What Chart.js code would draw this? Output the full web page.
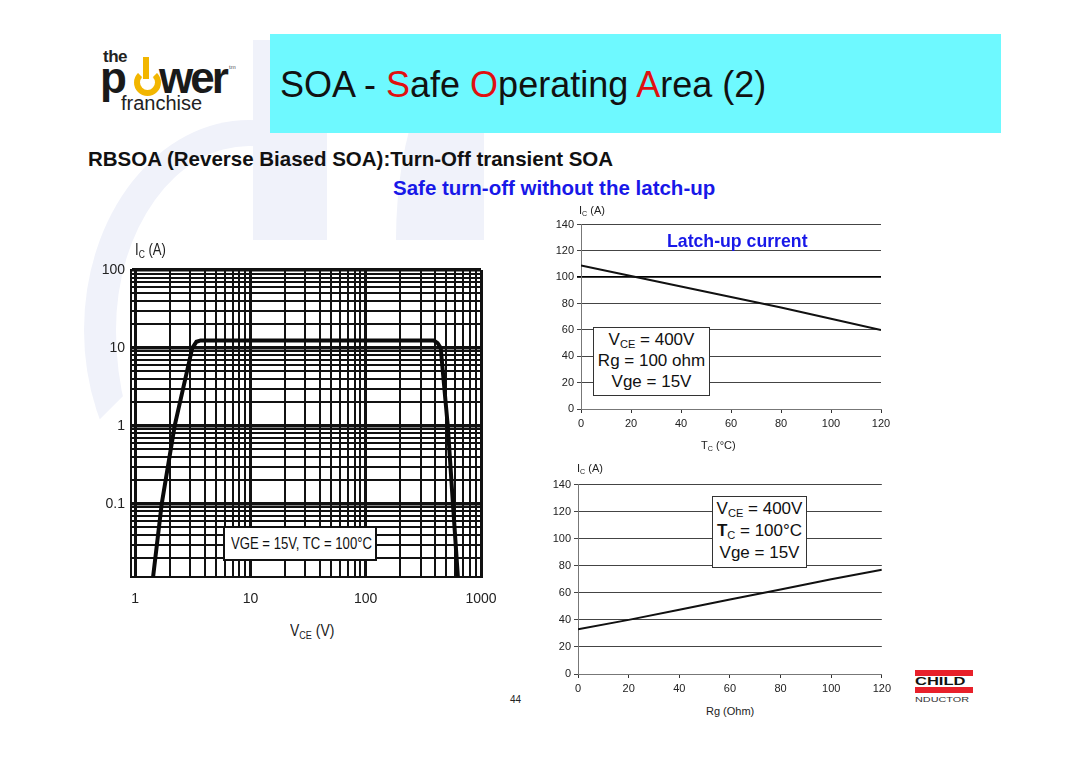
<!DOCTYPE html>
<html>
<head>
<meta charset="utf-8">
<script src="https://cdn.jsdelivr.net/npm/chart.js@4.4.1/dist/chart.umd.min.js"></script>
<style>
  body { margin: 0; background: #fff; }
  #slide { position: relative; width: 1080px; height: 763px; overflow: hidden; background: #fff; font-family: 'Liberation Sans', Arial, sans-serif; }
  .abs { position: absolute; white-space: nowrap; }
  .wm { position: absolute; background: #f0f2fa; }
  .narrow { display: inline-block; transform: scaleX(0.82); transform-origin: left center; }
  .box { position: absolute; background: #fff; text-align: center; color: #111; white-space: nowrap; }
  sub { font-size: 65%; vertical-align: -0.3em; line-height: 0; }
  canvas { position: absolute; }
</style>
</head>
<body>
<div id="slide">
  <!-- faint watermark shapes -->
  <div class="wm" style="left:84px;top:120px;width:330px;height:420px;border-radius:50%;background:transparent;border-left:32px solid #f0f2fa;border-top:26px solid #f0f2fa;box-sizing:border-box;clip-path:polygon(0 0,60% 0,60% 28%,0 75%);"></div>
  <div class="wm" style="left:253px;top:40px;width:74px;height:200px;"></div>
  <div class="wm" style="left:396px;top:40px;width:88px;height:200px;border-top-left-radius:80px 200px;"></div>

  <!-- logo -->
  <div class="abs" style="left:103px;top:48px;font-size:17px;line-height:17px;font-weight:bold;color:#222;letter-spacing:-0.5px;">the</div>
  <div class="abs" style="left:100px;top:56px;font-size:44px;line-height:44px;font-weight:bold;color:#1a1a1a;">p</div>
  <div class="abs" style="left:134px;top:69px;width:15px;height:15px;border:6px solid #f2b600;border-top-color:transparent;border-radius:50%;"></div>
  <div class="abs" style="left:143px;top:57px;width:6px;height:22px;background:#f2b600;"></div>
  <div class="abs" style="left:159px;top:56px;font-size:44px;line-height:44px;font-weight:bold;color:#1a1a1a;letter-spacing:-3px;">wer</div>
  <div class="abs" style="left:229px;top:64px;font-size:6px;color:#555;">tm</div>
  <div class="abs" style="left:121px;top:93px;font-size:20px;line-height:20px;color:#222;">franchise</div>

  <!-- title banner -->
  <div class="abs" style="left:270px;top:34px;width:731px;height:99px;background:#6ef9ff;"></div>
  <div class="abs" style="left:280px;top:64px;font-size:36px;color:#111;">SOA - <span style="color:#e01010">S</span>afe <span style="color:#e01010">O</span>perating <span style="color:#e01010">A</span>rea (2)</div>

  <div class="abs" style="left:88px;top:147px;font-size:20.5px;font-weight:bold;color:#111;">RBSOA (Reverse Biased SOA):Turn-Off transient SOA</div>
  <div class="abs" style="left:393px;top:176px;font-size:20.5px;font-weight:bold;color:#1818e8;">Safe turn-off without the latch-up</div>

  <canvas id="soa" width="420" height="360" style="left:80px;top:260px;"></canvas>
  <canvas id="latchT" width="350" height="225" style="left:545px;top:215px;"></canvas>
  <canvas id="latchR" width="350" height="230" style="left:545px;top:475px;"></canvas>

  <!-- axis titles -->
  <div class="abs" style="left:135px;top:241px;font-size:16px;color:#222;"><span class="narrow">I<sub>C</sub> (A)</span></div>
  <div class="abs" style="left:290px;top:621px;font-size:17px;color:#222;"><span class="narrow">V<sub>CE</sub> (V)</span></div>
  <div class="abs" style="left:579px;top:204px;font-size:11px;color:#222;">I<sub>C</sub> (A)</div>
  <div class="abs" style="left:701px;top:439px;font-size:11px;color:#222;">T<sub>C</sub> (°C)</div>
  <div class="abs" style="left:577px;top:462px;font-size:11px;color:#222;">I<sub>C</sub> (A)</div>
  <div class="abs" style="left:706px;top:705px;font-size:11px;color:#222;">Rg (Ohm)</div>

  <!-- annotations -->
  <div class="box" style="left:223px;top:526px;width:150px;height:31px;border:2px solid #111;font-size:16px;line-height:31px;text-align:left;"><span class="narrow" style="margin-left:6px;">VGE = 15V, TC = 100°C</span></div>
  <div class="abs" style="left:667px;top:231px;font-size:17.7px;font-weight:bold;color:#1818e8;">Latch-up current</div>
  <div class="box" style="left:593px;top:327px;width:115px;height:66px;border:1px solid #333;font-size:17px;line-height:21px;padding-top:1px;">V<sub>CE</sub> = 400V<br>Rg = 100 ohm<br>Vge = 15V</div>
  <div class="box" style="left:712px;top:496px;width:93px;height:69px;border:1px solid #333;font-size:17px;line-height:22px;padding-top:1px;">V<sub>CE</sub> = 400V<br><b>T</b><sub>C</sub> = 100°C<br>Vge = 15V</div>

  <div class="abs" style="left:510px;top:694px;font-size:10px;color:#222;">44</div>

  <!-- bottom-right logo -->
  <div class="abs" style="left:915px;top:670px;width:58px;height:6px;background:#e8202a;"></div>
  <div class="abs" style="left:915px;top:676px;font-size:11px;font-weight:900;line-height:11px;color:#111;"><span style="display:inline-block;transform:scaleX(1.5);transform-origin:left center;">CHILD</span></div>
  <div class="abs" style="left:915px;top:687px;width:58px;height:6px;background:#e8202a;"></div>
  <div class="abs" style="left:915px;top:695px;font-size:7px;line-height:9px;color:#333;"><span style="display:inline-block;transform:scaleX(1.55);transform-origin:left center;">NDUCTOR</span></div>
</div>

<script>
// RBSOA curve (log-log)
const soaVce = [1.43, 1.7, 2.2, 3.13, 3.4, 3.7, 390, 420, 447, 515, 571, 630];
const soaIc  = [0.0115, 0.1, 1, 10, 12, 12.5, 12.5, 11.5, 10, 1, 0.1, 0.0115];
const vceTickLabels = [1, 10, 100, 1000];
const icLogTickLabels = [0.1, 1, 10, 100];

// latch-up current vs case temperature
const tcDeg = [0, 20, 40, 60, 80, 100, 120];
const latchVsTc = [109, 101, 93, 85, 77, 68.5, 60];

// latch-up current vs gate resistance
const rgOhm = [0, 20, 40, 60, 80, 100, 120];
const latchVsRg = [33, 40, 47.5, 55, 62.5, 70, 77];

const armFont = "'Liberation Sans', Arial";

function logGrid(loExp, hiExp) {
  const out = [];
  for (let e = loExp; e <= hiExp; e++) {
    for (let m = 1; m <= 9; m++) out.push(parseFloat((m * Math.pow(10, e)).toPrecision(6)));
  }
  return out;
}
function isDecade(v) {
  const l = Math.log10(v);
  return Math.abs(l - Math.round(l)) < 1e-9;
}
const pts = (xs, ys) => xs.map((x, i) => ({ x: x, y: ys[i] }));

new Chart(document.getElementById('soa'), {
  type: 'scatter',
  data: {
    datasets: [{
      data: pts(soaVce, soaIc),
      showLine: true,
      borderColor: '#0a0a0a',
      borderWidth: 4,
      pointRadius: 0,
      tension: 0
    }]
  },
  options: {
    responsive: false,
    animation: false,
    layout: { padding: { top: 10, right: 19, left: 0, bottom: 0 } },
    plugins: { legend: { display: false }, tooltip: { enabled: false } },
    scales: {
      x: {
        type: 'logarithmic',
        min: 0.92,
        max: 1000,
        afterBuildTicks: s => { s.ticks = logGrid(0, 3).filter(v => v <= 1000).map(v => ({ value: v })); },
        afterFit: s => { s.height = 43; s.paddingLeft = 0; s.paddingRight = 0; },
        grid: {
          color: '#111',
          lineWidth: c => (c.tick && isDecade(c.tick.value)) ? 3 : 2,
          drawTicks: false
        },
        border: { color: '#111', width: 2 },
        ticks: {
          autoSkip: false,
          maxRotation: 0,
          padding: 14,
          color: '#222',
          font: { family: armFont, size: 14 },
          callback: v => vceTickLabels.includes(v) ? String(v) : ''
        }
      },
      y: {
        type: 'logarithmic',
        min: 0.0115,
        max: 100,
        afterBuildTicks: s => { s.ticks = logGrid(-2, 2).filter(v => v >= 0.0115 && v <= 100).map(v => ({ value: v })); },
        afterFit: s => { s.width = 51; s.paddingTop = 0; s.paddingBottom = 0; },
        grid: {
          color: '#111',
          lineWidth: c => (c.tick && isDecade(c.tick.value)) ? 3.5 : 2,
          drawTicks: false
        },
        border: { color: '#111', width: 2 },
        ticks: {
          autoSkip: false,
          padding: 6,
          color: '#222',
          font: { family: armFont, size: 14 },
          callback: v => icLogTickLabels.includes(v) ? String(v) : ''
        }
      }
    }
  }
});

function linearOpts(pad, yWidth, xHeight, boldLine) {
  return {
    responsive: false,
    animation: false,
    layout: { padding: pad },
    plugins: { legend: { display: false }, tooltip: { enabled: false } },
    scales: {
      x: {
        type: 'linear',
        min: 0,
        max: 120,
        afterFit: s => { s.height = xHeight; },
        grid: { drawOnChartArea: false, color: '#333', tickLength: 4 },
        border: { color: '#777', width: 1 },
        ticks: { stepSize: 20, padding: 4, color: '#222', font: { family: armFont, size: 11 } }
      },
      y: {
        type: 'linear',
        min: 0,
        max: 140,
        afterFit: s => { s.width = yWidth; },
        grid: {
          color: c => (boldLine && c.tick && c.tick.value === 100) ? '#000' : '#444',
          lineWidth: c => (boldLine && c.tick && c.tick.value === 100) ? 1.8 : 1,
          tickLength: 4
        },
        border: { color: '#777', width: 1 },
        ticks: { stepSize: 20, padding: 3, color: '#222', font: { family: armFont, size: 11 } }
      }
    }
  };
}

new Chart(document.getElementById('latchT'), {
  type: 'scatter',
  data: {
    datasets: [{
      data: pts(tcDeg, latchVsTc),
      showLine: true,
      borderColor: '#111',
      borderWidth: 2,
      pointRadius: 0
    }]
  },
  options: linearOpts({ top: 8, right: 14, left: 0, bottom: 0 }, 36, 31, true)
});

new Chart(document.getElementById('latchR'), {
  type: 'scatter',
  data: {
    datasets: [{
      data: pts(rgOhm, latchVsRg),
      showLine: true,
      borderColor: '#111',
      borderWidth: 2,
      pointRadius: 0
    }]
  },
  options: linearOpts({ top: 9, right: 11, left: 0, bottom: 0 }, 33, 31, false)
});
</script>
</body>
</html>
